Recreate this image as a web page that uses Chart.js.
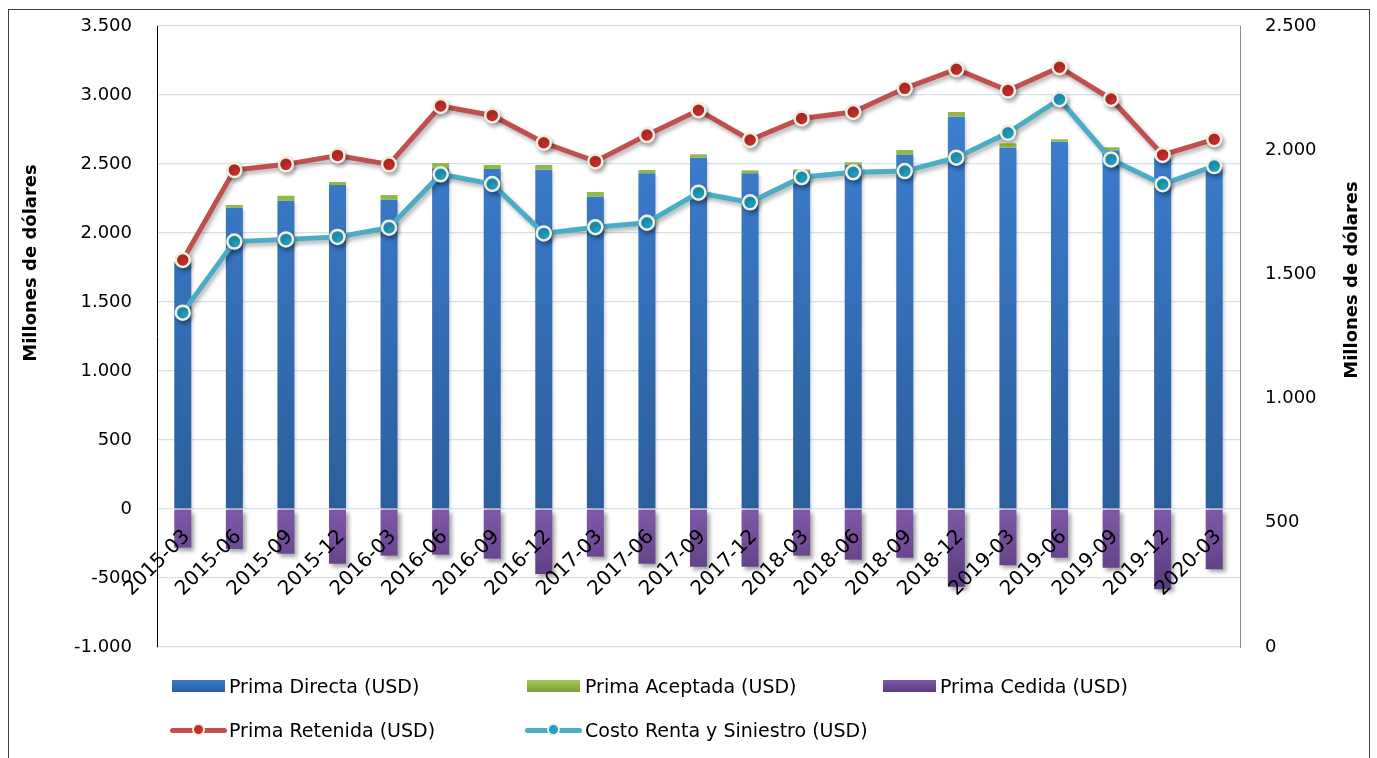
<!DOCTYPE html>
<html>
<head>
<meta charset="utf-8">
<script src="https://cdn.jsdelivr.net/npm/chart.js@4.4.0/dist/chart.umd.min.js"></script>
<style>
  html, body { margin: 0; padding: 0; background: #ffffff; }
  #wrap { position: relative; width: 1377px; height: 758px; overflow: hidden; background: #fff; }
  #frame { position: absolute; left: 8px; top: 9px; width: 1362px; height: 770px; border: 1px solid #404040; box-sizing: border-box; pointer-events: none; }
  #c { position: absolute; left: 0; top: 0; }
  .lg { position: absolute; font-family: "DejaVu Sans", sans-serif; font-size: 19px; line-height: 22px; color: #000; white-space: nowrap; }
  .sw { position: absolute; width: 53px; height: 12px; }
  .ln { position: absolute; width: 57px; height: 5px; border-radius: 3px; }
  .dot { position: absolute; width: 9px; height: 9px; border-radius: 50%; border: 2.5px solid #f2eedf; }
</style>
</head>
<body>
<div id="wrap">
  <canvas id="c" width="1377" height="758"></canvas>
  <div id="frame"></div>
  <div id="legend"></div>
</div>
<script>
// ---------------- DATA ----------------
const categories = ['2015-03','2015-06','2015-09','2015-12','2016-03','2016-06','2016-09','2016-12','2017-03','2017-06','2017-09','2017-12','2018-03','2018-06','2018-09','2018-12','2019-03','2019-06','2019-09','2019-12','2020-03'];
const primaDirecta  = [1780, 2183, 2234, 2348, 2241, 2469, 2464, 2459, 2263, 2433, 2546, 2433, 2445, 2493, 2567, 2843, 2618, 2662, 2597, 2540, 2470];
const primaAceptada = [10, 20, 36, 22, 34, 38, 29, 34, 34, 24, 24, 21, 15, 19, 34, 34, 32, 17, 24, 10, 10];
const primaCedida   = [-280, -290, -324, -396, -338, -331, -360, -471, -345, -396, -418, -418, -338, -367, -353, -563, -408, -353, -425, -582, -437];
const primaRetenida = [1558, 1920, 1943, 1979, 1943, 2178, 2140, 2030, 1955, 2061, 2161, 2041, 2128, 2154, 2249, 2326, 2240, 2334, 2206, 1981, 2044];
const costoRentaSiniestro = [1346, 1632, 1641, 1651, 1688, 1903, 1864, 1665, 1690, 1708, 1829, 1790, 1891, 1911, 1916, 1970, 2070, 2205, 1963, 1863, 1936];
const seriesNames = ['Prima Directa (USD)', 'Prima Aceptada (USD)', 'Prima Cedida (USD)', 'Prima Retenida (USD)', 'Costo Renta y Siniestro (USD)'];
const axisTitle = 'Millones de dólares';
const leftAxis = { min: -1000, max: 3500, step: 500 };
const rightAxis = { min: 0, max: 2500, step: 500 };

// ---------------- HELPERS ----------------
function fmt(v) { return String(v).replace(/\B(?=(\d{3})+(?!\d))/g, '.'); }

function gradFill(v0, v1, c0, c1, fallback) {
  return (context) => {
    const chart = context.chart;
    const { ctx, chartArea, scales } = chart;
    if (!chartArea) return fallback;
    const p0 = scales.y.getPixelForValue(v0);
    const p1 = scales.y.getPixelForValue(v1);
    const g = ctx.createLinearGradient(0, p0, 0, p1);
    g.addColorStop(0, c0);
    g.addColorStop(1, c1);
    return g;
  };
}

const shadowPlugin = {
  id: 'shadows',
  beforeDatasetDraw(chart, args) {
    const ctx = chart.ctx;
    ctx.save();
    const idx = args.index;
    if (idx === 2) {
      ctx.shadowColor = 'rgba(0,0,0,0.35)'; ctx.shadowBlur = 4; ctx.shadowOffsetX = 3; ctx.shadowOffsetY = 3;
    } else if (idx === 3 || idx === 4) {
      ctx.shadowColor = 'rgba(0,0,0,0.3)'; ctx.shadowBlur = 4; ctx.shadowOffsetX = 2; ctx.shadowOffsetY = 3;
    } else if (idx === 0) {
      ctx.shadowColor = 'rgba(0,0,0,0.18)'; ctx.shadowBlur = 3; ctx.shadowOffsetX = 2; ctx.shadowOffsetY = 2;
    }
  },
  afterDatasetDraw(chart) { chart.ctx.restore(); }
};

const axisTitlePlugin = {
  id: 'axisTitles',
  afterDraw(chart) {
    const c = chart.ctx;
    c.save();
    c.font = 'bold 18px "DejaVu Sans"';
    c.fillStyle = '#000';
    c.textAlign = 'center';
    c.textBaseline = 'middle';
    c.translate(31, 263);
    c.rotate(-Math.PI / 2);
    c.fillText(axisTitle, 0, 0);
    c.restore();
    c.save();
    c.font = 'bold 18px "DejaVu Sans"';
    c.fillStyle = '#000';
    c.textAlign = 'center';
    c.textBaseline = 'middle';
    c.translate(1352, 280);
    c.rotate(-Math.PI / 2);
    c.fillText(axisTitle, 0, 0);
    c.restore();
  }
};

// ---------------- CHART ----------------
const tickFont = { family: 'DejaVu Sans', size: 18 };
const fixVertical = (w) => (s) => { s.width = w; s.paddingTop = 0; s.paddingBottom = 0; };

new Chart(document.getElementById('c'), {
  type: 'bar',
  data: {
    labels: categories,
    datasets: [
      {
        label: seriesNames[0], data: primaDirecta, yAxisID: 'y', stack: 's', order: 2,
        backgroundColor: gradFill(0, 3000, '#2c5e9c', '#3d80d2', '#3674c0'),
        barPercentage: 0.33, categoryPercentage: 1.0
      },
      {
        label: seriesNames[1], data: primaAceptada, yAxisID: 'y', stack: 's', order: 2,
        backgroundColor: '#93b845',
        barPercentage: 0.33, categoryPercentage: 1.0
      },
      {
        label: seriesNames[2], data: primaCedida, yAxisID: 'y', stack: 's', order: 2,
        backgroundColor: gradFill(0, -600, '#8059a9', '#583a7c', '#6e4c96'),
        barPercentage: 0.33, categoryPercentage: 1.0
      },
      {
        type: 'line', label: seriesNames[3], data: primaRetenida, yAxisID: 'y1', order: 0,
        borderColor: '#c0504d', borderWidth: 5, tension: 0,
        pointRadius: 7, pointBorderWidth: 2.5, pointBorderColor: '#f2eedf', pointBackgroundColor: '#c42f28'
      },
      {
        type: 'line', label: seriesNames[4], data: costoRentaSiniestro, yAxisID: 'y1', order: 1,
        borderColor: '#4bacc6', borderWidth: 5, tension: 0,
        pointRadius: 7, pointBorderWidth: 2.5, pointBorderColor: '#f2eedf', pointBackgroundColor: '#1f9fc1'
      }
    ]
  },
  options: {
    responsive: false,
    devicePixelRatio: 1,
    animation: false,
    layout: { padding: { top: 26, bottom: 111, left: 0, right: 0 } },
    plugins: { legend: { display: false }, tooltip: { enabled: false }, title: { display: false } },
    scales: {
      x: {
        stacked: true,
        offset: true,
        position: { y: 0 },
        grid: { display: false, drawTicks: false },
        border: { display: false },
        ticks: {
          z: 1,
          autoSkip: false, minRotation: 45, maxRotation: 45,
          padding: 16, labelOffset: 4,
          font: { family: 'DejaVu Sans', size: 20 }, color: '#000'
        },
        afterFit: (s) => { s.height = 0; s.paddingLeft = 0; s.paddingRight = 0; }
      },
      y: {
        stacked: true,
        position: 'left',
        min: leftAxis.min, max: leftAxis.max,
        ticks: { stepSize: leftAxis.step, callback: (v) => fmt(v), font: tickFont, color: '#000', padding: 25 },
        grid: { color: '#d3e0f0', lineWidth: 1.3, drawTicks: false },
        border: { display: true, color: '#000', width: 1 },
        afterFit: fixVertical(157)
      },
      y1: {
        position: 'right',
        min: rightAxis.min, max: rightAxis.max,
        ticks: { stepSize: rightAxis.step, callback: (v) => fmt(v), font: tickFont, color: '#000', padding: 25 },
        grid: { display: false, drawTicks: false },
        border: { display: true, color: '#8a8a8a', width: 1 },
        afterFit: fixVertical(137)
      }
    }
  },
  plugins: [shadowPlugin, axisTitlePlugin]
});

// ---------------- LEGEND (HTML) ----------------
const legendItems = [
  { kind: 'box', bg: 'linear-gradient(#3a7bcb,#2c5f9e)', sx: 172, tx: 229, cy: 686, text: seriesNames[0] },
  { kind: 'box', bg: 'linear-gradient(#a6ca55,#7d9c38)', sx: 527, tx: 585, cy: 686, text: seriesNames[1] },
  { kind: 'box', bg: 'linear-gradient(#8059a9,#5a3b7e)', sx: 883, tx: 940, cy: 686, text: seriesNames[2] },
  { kind: 'line', line: '#c0504d', dot: '#c42f28', sx: 170, tx: 229, cy: 730, text: seriesNames[3] },
  { kind: 'line', line: '#4bacc6', dot: '#1f9fc1', sx: 525, tx: 585, cy: 730, text: seriesNames[4] }
];
const lg = document.getElementById('legend');
legendItems.forEach(it => {
  if (it.kind === 'box') {
    const s = document.createElement('div');
    s.className = 'sw';
    s.style.left = it.sx + 'px'; s.style.top = (it.cy - 6) + 'px'; s.style.background = it.bg;
    lg.appendChild(s);
  } else {
    const l = document.createElement('div');
    l.className = 'ln';
    l.style.left = it.sx + 'px'; l.style.top = (it.cy - 2.5) + 'px'; l.style.background = it.line;
    lg.appendChild(l);
    const d = document.createElement('div');
    d.className = 'dot';
    d.style.left = (it.sx + 28.5 - 7) + 'px'; d.style.top = (it.cy - 7) + 'px'; d.style.background = it.dot;
    lg.appendChild(d);
  }
  const t = document.createElement('div');
  t.className = 'lg';
  t.style.left = it.tx + 'px'; t.style.top = (it.cy - 11) + 'px';
  t.textContent = it.text;
  lg.appendChild(t);
});
</script>
</body>
</html>
